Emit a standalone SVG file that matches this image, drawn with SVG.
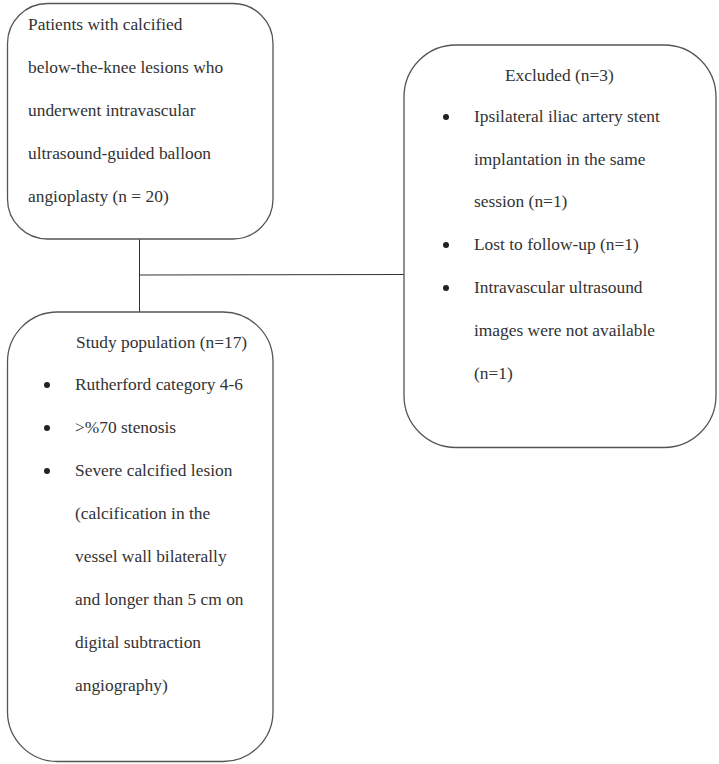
<svg xmlns="http://www.w3.org/2000/svg" width="719" height="764" viewBox="0 0 719 764">
<style>
.box{fill:#fff;stroke:#555;stroke-width:1.3}
.t{font-family:"Liberation Serif","Times New Roman",serif;font-size:17.4px;fill:#333}
.b{fill:#222}
.c{stroke:#333;stroke-width:1;fill:none}
</style>
<rect width="719" height="764" fill="#fff"/>
<g id="connectors">
<line class="c" x1="139.5" y1="239" x2="139.5" y2="312"/>
<line class="c" x1="139.5" y1="275" x2="404" y2="274.5"/>
</g>
<g id="patients">
<rect class="box" x="7.5" y="3.5" width="265.5" height="235.5" rx="40" ry="40"/>
<text class="t" x="28" y="30">Patients with calcified</text>
<text class="t" x="28" y="73">below-the-knee lesions who</text>
<text class="t" x="28" y="116">underwent intravascular</text>
<text class="t" x="28" y="159">ultrasound-guided balloon</text>
<text class="t" x="28" y="202">angioplasty (n = 20)</text>
</g>
<g id="excluded">
<rect class="box" x="404" y="45" width="312" height="402.5" rx="52" ry="52"/>
<text class="t" x="505" y="81">Excluded (n=3)</text>
<circle class="b" cx="446" cy="117" r="3"/>
<text class="t" x="474" y="122">Ipsilateral iliac artery stent</text>
<text class="t" x="474" y="165">implantation in the same</text>
<text class="t" x="474" y="207">session (n=1)</text>
<circle class="b" cx="446" cy="245" r="3"/>
<text class="t" x="474" y="250">Lost to follow-up (n=1)</text>
<circle class="b" cx="446" cy="288" r="3"/>
<text class="t" x="474" y="293">Intravascular ultrasound</text>
<text class="t" x="474" y="336">images were not available</text>
<text class="t" x="474" y="379">(n=1)</text>
</g>
<g id="study">
<rect class="box" x="7.5" y="312" width="265.5" height="449.5" rx="50" ry="50"/>
<text class="t" x="76" y="348">Study population (n=17)</text>
<circle class="b" cx="47" cy="385" r="3"/>
<text class="t" x="75" y="390">Rutherford category 4-6</text>
<circle class="b" cx="47" cy="428" r="3"/>
<text class="t" x="75" y="433">&gt;%70 stenosis</text>
<circle class="b" cx="47" cy="471" r="3"/>
<text class="t" x="75" y="476">Severe calcified lesion</text>
<text class="t" x="75" y="519">(calcification in the</text>
<text class="t" x="75" y="562">vessel wall bilaterally</text>
<text class="t" x="75" y="605">and longer than 5 cm on</text>
<text class="t" x="75" y="648">digital subtraction</text>
<text class="t" x="75" y="691">angiography)</text>
</g>
</svg>
